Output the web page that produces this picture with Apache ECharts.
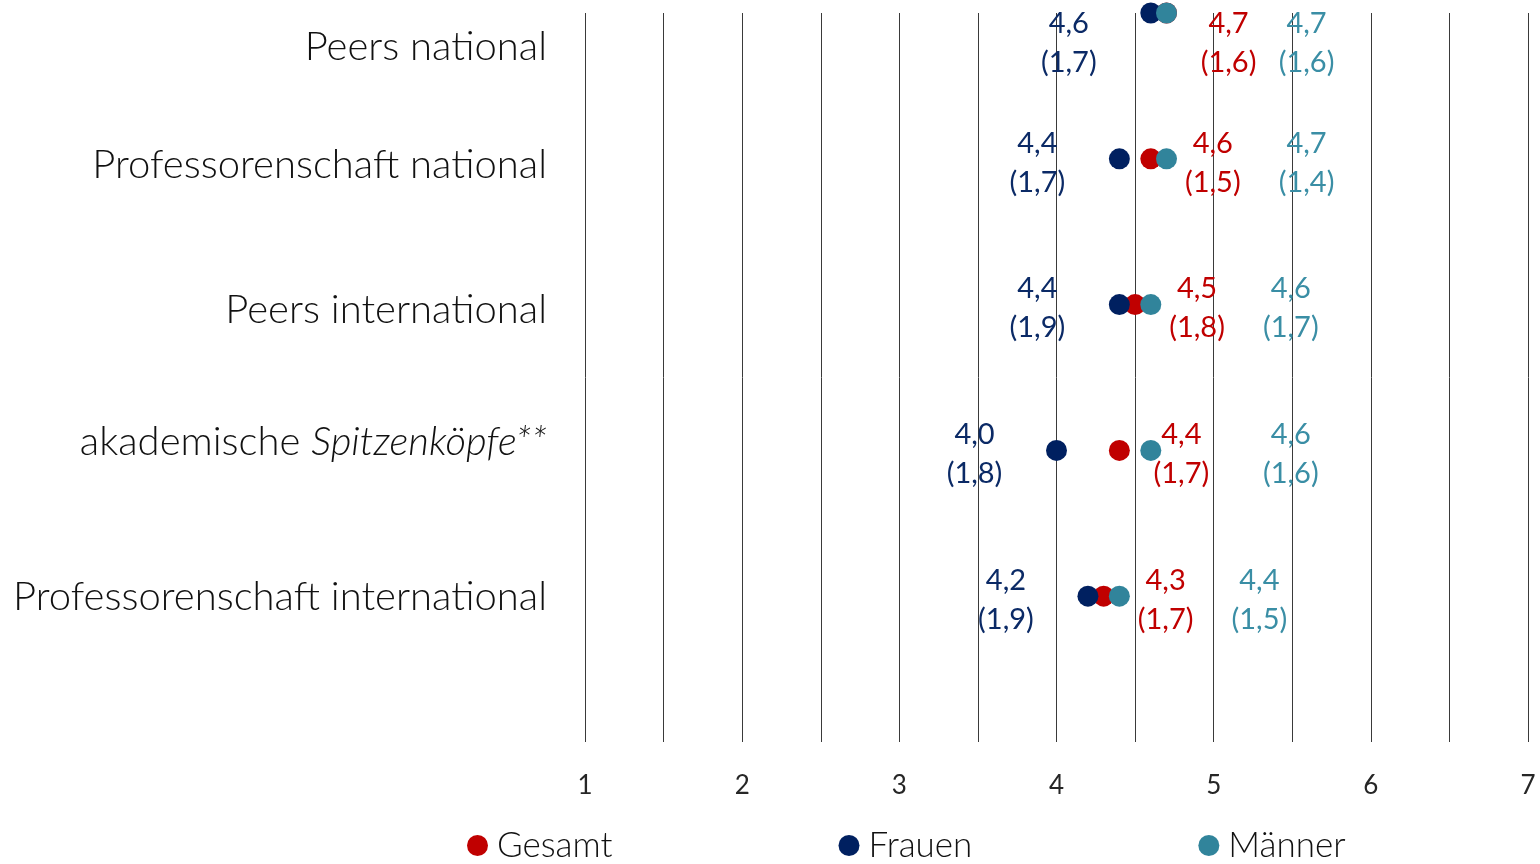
<!DOCTYPE html>
<html>
<head>
<meta charset="utf-8">
<script src="https://cdn.jsdelivr.net/npm/echarts@6/dist/echarts.min.js"></script>
<style>
  html, body { margin: 0; padding: 0; background: #fff; }
  #chart { width: 1540px; height: 864px; }
</style>
</head>
<body>
<div id="chart"></div>
<script>
// Rows from top to bottom
const categories = [
  'Peers national',
  'Professorenschaft national',
  'Peers international',
  'akademische Spitzenköpfe**',
  'Professorenschaft international'
];
const seriesNames = ['Gesamt', 'Frauen', 'Männer'];

// Means per group
const gesamtMean = [4.7, 4.6, 4.5, 4.4, 4.3];
const frauenMean = [4.6, 4.4, 4.4, 4.0, 4.2];
const maennerMean = [4.7, 4.7, 4.6, 4.6, 4.4];

// Standard deviations per group
const gesamtSd = [1.6, 1.5, 1.8, 1.7, 1.7];
const frauenSd = [1.7, 1.7, 1.9, 1.8, 1.9];
const maennerSd = [1.6, 1.4, 1.7, 1.6, 1.5];

const xTicks = [1, 2, 3, 4, 5, 6, 7];

const colors = { Gesamt: '#C00000', Frauen: '#002060', 'Männer': '#31849B' };
const labelColors = { Gesamt: '#C00000', Frauen: '#0B2A66', 'Männer': '#3A8EA5' };
const labelShift = { Gesamt: 62, Frauen: -82, 'Männer': 140 };
const FONT = 'Lato, "Open Sans", sans-serif';

const fmt = v => v.toFixed(1).replace('.', ',');
const rowCount = categories.length;
// row i sits at y = rowCount - i (top row highest)
const rowY = i => rowCount - i;

function buildSeries(name, means, sds) {
  return {
    name: name,
    type: 'scatter',
    symbol: 'circle',
    symbolSize: 21,
    itemStyle: { color: colors[name], opacity: 1 },
    data: means.map((m, i) => ({
      value: [m, rowY(i)],
      sd: sds[i],
      // the top row's labels are pushed down to stay inside the plot
      label: { offset: [labelShift[name], i === 0 ? 30 : 4] }
    })),
    label: {
      show: true,
      position: 'inside',
      color: labelColors[name],
      fontFamily: FONT,
      fontSize: 29,
      lineHeight: 39,
      align: 'center',
      verticalAlign: 'middle',
      formatter: p => fmt(p.value[0]) + '\n(' + fmt(p.data.sd) + ')'
    },
    emphasis: { disabled: true },
    z: 3
  };
}

// per-row vertical nudge of the category labels
const catNudge = [34, 6, 5, -8, 1];
const catRich = {};
categories.forEach((c, i) => {
  const n = catNudge[i];
  const pad = n >= 0 ? [2 * n, 0, 0, 0] : [0, 0, -2 * n, 0];
  catRich['r' + i] = {
    fontFamily: FONT, fontSize: 40, fontWeight: 300, color: '#111', padding: pad
  };
  catRich['i' + i] = {
    fontFamily: FONT, fontSize: 40, fontWeight: 300, color: '#111',
    fontStyle: 'italic', padding: pad
  };
});

function catLabel(v) {
  const i = rowCount - Math.round(v);
  if (i < 0 || i >= rowCount || Math.abs(v - Math.round(v)) > 1e-6) return '';
  const text = categories[i];
  const cut = text.indexOf(' Spitzen');
  if (cut >= 0) {
    return '{r' + i + '|' + text.slice(0, cut + 1) + '}{i' + i + '|' + text.slice(cut + 1) + '}';
  }
  return '{r' + i + '|' + text + '}';
}

const chart = echarts.init(document.getElementById('chart'));
chart.setOption({
  animation: false,
  backgroundColor: '#fff',
  grid: { left: 585, right: 12, top: 13, bottom: 122, containLabel: false },
  xAxis: {
    type: 'value',
    min: 1, max: 7, interval: 0.5,
    axisLine: { show: false },
    axisTick: { show: false },
    splitLine: { show: true, lineStyle: { color: '#3a3a3a', width: 1 } },
    axisLabel: {
      margin: 31,
      fontFamily: FONT, fontSize: 26, color: '#262626',
      formatter: v => (xTicks.indexOf(v) >= 0 ? String(v) : '')
    }
  },
  yAxis: {
    type: 'value',
    min: 0, max: rowCount, interval: 1,
    axisLine: { show: false },
    axisTick: { show: false },
    splitLine: { show: false },
    axisLabel: {
      margin: 38,
      showMaxLabel: true,
      showMinLabel: false,
      formatter: catLabel,
      rich: catRich
    }
  },
  legend: {
    bottom: -4,
    left: 462,
    itemWidth: 21, itemHeight: 21,
    itemGap: 226,
    icon: 'circle',
    textStyle: {
      fontFamily: FONT, fontSize: 35, fontWeight: 300, color: '#111',
      padding: [0, 0, 0, 4]
    },
    data: seriesNames
  },
  series: [
    buildSeries('Gesamt', gesamtMean, gesamtSd),
    buildSeries('Frauen', frauenMean, frauenSd),
    buildSeries('Männer', maennerMean, maennerSd)
  ]
});
</script>
</body>
</html>
